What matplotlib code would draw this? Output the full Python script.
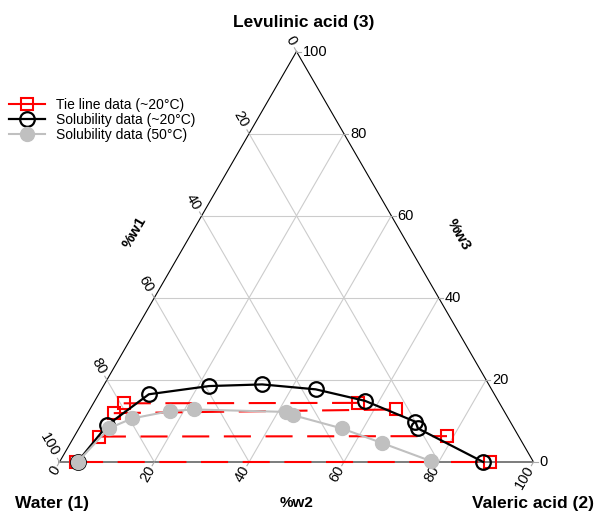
import matplotlib.pyplot as plt
from matplotlib.lines import Line2D
import numpy as np

plt.rcParams['font.family'] = ['Liberation Sans', 'DejaVu Sans']

# Du lieu doc tu hinh (% khoi luong): w2 = axit valeric, w3 = axit levulinic
sol20_w2 = [3.8, 5.6, 10.6, 22.3, 33.3, 45.2, 57.0, 70.2, 71.5, 89.4]
sol20_w3 = [0.0, 9.0, 16.5, 18.5, 18.9, 17.7, 14.9, 9.8, 8.2, 0.0]

sol50_w2 = [3.8, 6.3, 10.0, 17.1, 21.9, 41.6, 43.6, 55.4, 65.8, 78.3]
sol50_w3 = [0.0, 8.2, 10.6, 12.4, 12.8, 12.2, 11.4, 8.2, 4.6, 0.2]

tie_left_w2 = [3.4, 5.2, 5.5, 6.4]
tie_left_w3 = [0.0, 6.2, 11.9, 14.3]
tie_right_w2 = [90.8, 78.6, 64.5, 55.7]
tie_right_w3 = [0.0, 6.3, 12.8, 14.4]

grid_vals = [20, 40, 60, 80]
tick_vals = [0, 20, 40, 60, 80, 100]

S3 = np.sqrt(3) / 2


def to_xy(w2, w3):
    w2 = np.asarray(w2, dtype=float) / 100
    w3 = np.asarray(w3, dtype=float) / 100
    return w2 + w3 / 2, w3 * S3


fig = plt.figure(figsize=(6, 5.11), dpi=100)
ax = fig.add_axes([0, 0, 1, 1])
ax.set_xlim(-59.5 / 474, (600 - 59.5) / 474)
ax.set_ylim((462 - 511) / 474, 462 / 474)
ax.axis('off')

# luoi
for v in grid_vals:
    for a, b in [((0, v), (100 - v, v)), ((v, 0), (v, 100 - v)), ((100 - v, 0), (0, 100 - v))]:
        x, y = to_xy([a[0], b[0]], [a[1], b[1]])
        ax.plot(x, y, color='#cccccc', lw=0.8, zorder=1)

# canh tam giac
x, y = to_xy([0, 0], [0, 100])
ax.plot(x, y, color='black', lw=0.8, zorder=2)
x, y = to_xy([100, 0], [0, 100])
ax.plot(x, y, color='black', lw=0.8, zorder=2)
x, y = to_xy([0, 100], [0, 0])
ax.plot(x, y, color='#666666', lw=1.2, zorder=2)

# vach chia + nhan
tl = 0.009
for v in tick_vals:
    # %w3 (canh phai)
    x0, y0 = to_xy(100 - v, v)
    ax.plot([x0, x0 + tl], [y0, y0], color='#aaaaaa', lw=0.8)
    ax.text(x0 + 0.013, y0, str(v), ha='left', va='center', fontsize=10.5)
    # %w2 (canh day)
    x0, y0 = to_xy(v, 0)
    d = np.array([-0.5, -S3])
    ax.plot([x0, x0 + tl * d[0]], [y0, y0 + tl * d[1]], color='#aaaaaa', lw=0.8)
    ax.text(x0 + 0.011 * d[0], y0 + 0.011 * d[1], str(v), ha='right', va='center',
            rotation=60, rotation_mode='anchor', fontsize=10.5)
    # %w1 (canh trai)
    x0, y0 = to_xy(0, 100 - v)
    d = np.array([-0.5, S3])
    ax.plot([x0, x0 + tl * d[0]], [y0, y0 + tl * d[1]], color='#aaaaaa', lw=0.8)
    ax.text(x0 + 0.017 * d[0], y0 + 0.017 * d[1], str(v), ha='right', va='center',
            rotation=-60, rotation_mode='anchor', fontsize=10.5)

# duong noi (tie lines)
for i in range(len(tie_left_w2)):
    x, y = to_xy([tie_left_w2[i], tie_right_w2[i]], [tie_left_w3[i], tie_right_w3[i]])
    ax.plot(x, y, color='red', lw=1.5, dashes=(13, 7), marker='s', markersize=9,
            markerfacecolor='none', markeredgecolor='red', markeredgewidth=1.5, zorder=3)

x, y = to_xy(sol20_w2, sol20_w3)
ax.plot(x, y, color='black', lw=1.6, marker='o', markersize=10.5,
        markerfacecolor='none', markeredgewidth=1.6, zorder=4)

x, y = to_xy(sol50_w2, sol50_w3)
ax.plot(x, y, color='#c0c0c0', lw=1.5, marker='o', markersize=10,
        markeredgecolor='#c0c0c0', markerfacecolor='#c0c0c0', zorder=5)

# ten dinh va truc
def px(xp, yp):
    return (xp - 59.5) / 474, (462 - yp) / 474

ax.text(*px(304, 22), 'Levulinic acid (3)', ha='center', va='center', fontsize=12.5, fontweight='bold')
ax.text(*px(52.5, 503), 'Water (1)', ha='center', va='center', fontsize=12.5, fontweight='bold')
ax.text(*px(533, 503), 'Valeric acid (2)', ha='center', va='center', fontsize=12.5, fontweight='bold')
ax.text(*px(297, 503), '%w2', ha='center', va='center', fontsize=11, fontweight='bold')
ax.text(*px(135, 232), '%w1', ha='center', va='center', fontsize=11, fontweight='bold', rotation=60)
ax.text(*px(459, 235), '%w3', ha='center', va='center', fontsize=11, fontweight='bold', rotation=-60)

handles = [
    Line2D([], [], color='red', lw=1.5, marker='s', markersize=9, markerfacecolor='none',
           markeredgewidth=1.5),
    Line2D([], [], color='black', lw=1.6, marker='o', markersize=10.5, markerfacecolor='none',
           markeredgewidth=1.6),
    Line2D([], [], color='#c0c0c0', lw=1.5, marker='o', markersize=10,
           markerfacecolor='#c0c0c0'),
]
labels = ['Tie line data (~20°C)', 'Solubility data (~20°C)', 'Solubility data (50°C)']
ax.legend(handles, labels, loc='upper left', bbox_to_anchor=(0.015, 0.808), frameon=False,
          fontsize=10, handlelength=2.6, handletextpad=0.8, labelspacing=0.05,
          borderaxespad=0, borderpad=0)

fig.savefig('out.png', dpi=100)
